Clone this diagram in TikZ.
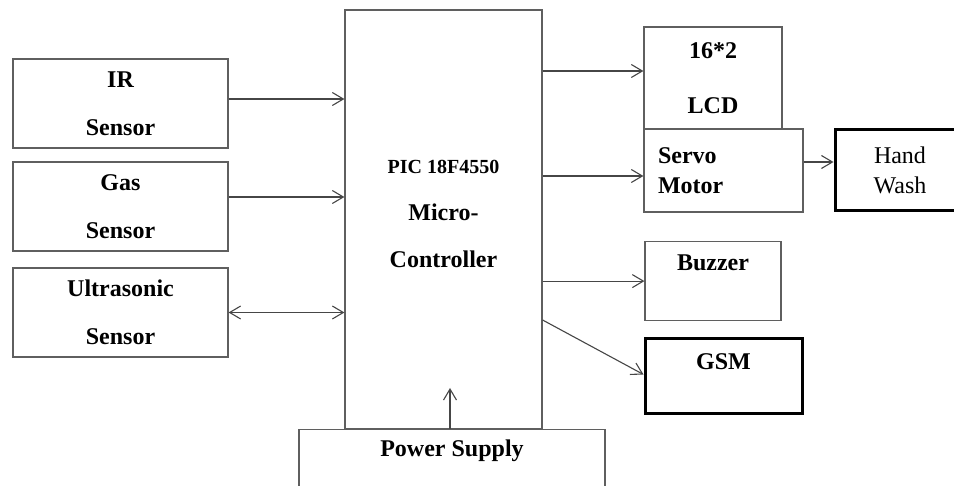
\documentclass[tikz,border=0pt]{standalone}
\usepackage{fontspec}
\setmainfont{Liberation Serif}
\usetikzlibrary{arrows.meta}
\definecolor{BoxGray}{RGB}{95,95,95}
\definecolor{ArrGray}{RGB}{70,70,70}

\begin{document}
\begin{tikzpicture}[x=1pt, y=-1pt,
          blk/.style={rectangle, draw=BoxGray, line width=1.2pt, inner sep=0pt,
                      align=center, font=\bfseries\fontsize{24}{48}\selectfont},
          thk/.style={blk, draw=black, line width=3pt},
          arr/.style={-{Straight Barb[length=11pt, width=13pt]}, draw=ArrGray, line width=1.1pt},
          darr/.style={arr, {Straight Barb[length=11pt, width=13pt]}-{Straight Barb[length=11pt, width=13pt]}}
        ]
        \clip (0,0) rectangle (954,486);
        \fill[white] (0,0) rectangle (954,486);

        % Sensors
        \node[blk, minimum width=215, minimum height=89]
              (ir) at (120.5, 103.5) {IR\\Sensor};
        \node[blk, minimum width=215, minimum height=89]
              (gas) at (120.5, 206.5) {Gas\\Sensor};
        \node[blk, minimum width=215, minimum height=89]
              (ultra) at (120.5, 312.5) {Ultrasonic\\Sensor};

        % Controller
        \node[blk, minimum width=197, minimum height=419, font=\bfseries\fontsize{24}{47}\selectfont]
              (mcu) at (443.5, 219.5) {{\fontsize{20}{47}\selectfont PIC 18F4550}\\Micro-\\Controller\\[-35pt]};

        % Power
        \node[blk, minimum width=306, text height=27, text depth=44]
              (power) at (452, 429) [anchor=north] {Power Supply};

        % Outputs
        \node[blk, minimum width=138, minimum height=102, font=\bfseries\fontsize{24}{55}\selectfont]
              (lcd) at (713, 78) {16*2\\LCD};
        \node[blk, minimum width=159, minimum height=83, align=left, text width=131,
              font=\bfseries\fontsize{24}{30}\selectfont]
              (servo) at (723.5, 170.5) {Servo\\Motor};
        \node[thk, minimum width=130, minimum height=81, font=\fontsize{24}{30}\selectfont]
              (hand) at (900, 170.5) {Hand\\Wash};
        \node[blk, minimum width=136, text height=29, text depth=50]
              (buzz) at (713, 241) [anchor=north] {Buzzer};
        \node[thk, minimum width=157, text height=31, text depth=44]
              (gsm) at (723.5, 337) [anchor=north] {GSM};

        \coordinate (pin) at (450, 388);

        \draw[arr] ([yshift=4.5pt]ir.east) -- ([yshift=4.5pt]ir.east -| mcu.west);
        \draw[arr] ([yshift=9.5pt]gas.east) -- ([yshift=9.5pt]gas.east -| mcu.west);
        \draw[darr] (ultra.east) -- (ultra.east -| mcu.west);
        \draw[arr] ([yshift=7pt]lcd.west -| mcu.east) -- ([yshift=7pt]lcd.west);
        \draw[arr] ([yshift=-5.5pt]servo.west -| mcu.east) -- ([yshift=-5.5pt]servo.west);
        \draw[arr] ([yshift=8.5pt]servo.east) -- ([yshift=8.5pt]servo.east -| hand.west);
        \draw[arr] (buzz.west -| mcu.east) -- (buzz.west);
        \draw[arr] ([yshift=-100.5pt]mcu.east) -- ([yshift=1.5pt]gsm.west);
        \draw[arr] (power.north -| pin) -- (pin);
      \end{tikzpicture}
\end{document}
